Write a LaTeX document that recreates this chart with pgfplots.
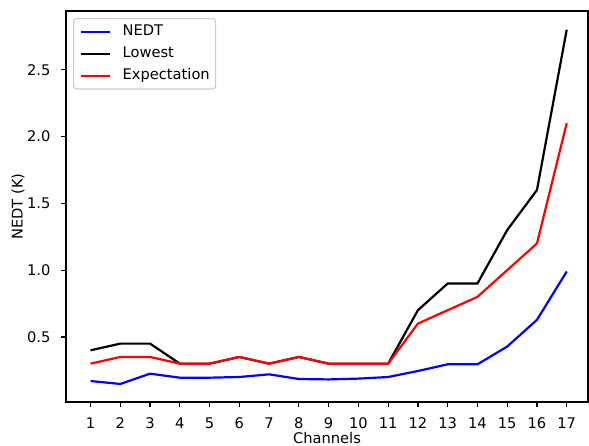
\documentclass[border=0pt]{standalone}
\usepackage{fontspec}
\setmainfont{DejaVu Sans}
\usepackage{pgfplots}
\pgfplotsset{compat=1.18}
\begin{document}
\begin{tikzpicture}
\begin{axis}[
  at={(0,0)}, anchor=south west,
  scale only axis,
  width=356.27pt, height=266.86pt,
  xmin=0.175, xmax=17.715,
  ymin=0.013, ymax=2.94,
  xtick={1,2,...,17},
  ytick={0.5,1.0,1.5,2.0,2.5},
  yticklabel style={/pgf/number format/fixed, /pgf/number format/fixed zerofill, /pgf/number format/precision=1},
  /pgf/number format/assume math mode=true,
  tick align=outside, xtick pos=lower, ytick pos=left,
  major tick length=3.5pt,
  every tick/.style={line width=0.8pt, black},
  axis line style={line width=0.8pt},
  yticklabel style={inner sep=0pt, anchor=east, xshift=-7pt},
  xticklabel style={inner sep=0pt, anchor=north, yshift=-7pt},
  tick label style={font=\fontsize{10}{12}\selectfont},
  xlabel={Channels}, ylabel={NEDT (K)},
  every axis x label/.style={at={(axis description cs:0.5,-0.105)}, anchor=base, font=\fontsize{10}{12}\selectfont},
  every axis y label/.style={at={(axis description cs:-0.092,0.5)}, anchor=center, rotate=90, font=\fontsize{10}{12}\selectfont},
  legend cell align=left,
  legend style={at={(axis description cs:0,1)}, anchor=north west, xshift=4.78pt, yshift=-4.78pt,
    draw=black!20, line width=0.8pt, rounded corners=2pt, fill=white,
    inner xsep=4pt, inner ysep=4pt,
    nodes={inner xsep=0pt, inner ysep=0pt, text height=7.5pt, text depth=2.5pt},
    row sep=5pt, column sep=8pt,
    font=\fontsize{10}{12}\selectfont},
  legend image code/.code={\draw[#1, line width=1.5pt] (0pt,0pt) -- (20pt,0pt);},
]
\addplot[blue, line width=1.5pt] coordinates {
(1,0.17) (2,0.148) (3,0.225) (4,0.195) (5,0.195) (6,0.2) (7,0.22) (8,0.185) (9,0.182)
(10,0.188) (11,0.2) (12,0.245) (13,0.295) (14,0.295) (15,0.428) (16,0.628) (17,0.99)};
\addlegendentry{NEDT}
\addplot[black, line width=1.5pt] coordinates {
(1,0.4) (2,0.45) (3,0.45) (4,0.3) (5,0.3) (6,0.35) (7,0.3) (8,0.35) (9,0.3)
(10,0.3) (11,0.3) (12,0.7) (13,0.9) (14,0.9) (15,1.3) (16,1.6) (17,2.8)};
\addlegendentry{Lowest}
\addplot[red, line width=1.5pt] coordinates {
(1,0.3) (2,0.35) (3,0.35) (4,0.3) (5,0.3) (6,0.35) (7,0.3) (8,0.35) (9,0.3)
(10,0.3) (11,0.3) (12,0.6) (13,0.7) (14,0.8) (15,1.0) (16,1.2) (17,2.1)};
\addlegendentry{Expectation}
\end{axis}
\pgfresetboundingbox
\useasboundingbox (-45.05pt,-30.03pt) rectangle (356.95pt,274.37pt);
\end{tikzpicture}
\end{document}
